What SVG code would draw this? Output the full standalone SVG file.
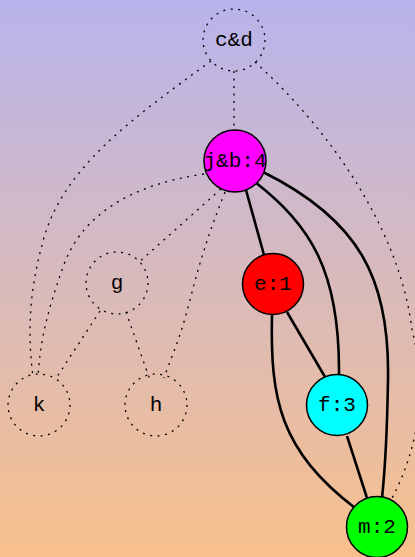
<svg xmlns="http://www.w3.org/2000/svg" width="415" height="557" viewBox="0 0 415 557">
<defs>
<linearGradient id="bg" x1="0" y1="0" x2="0" y2="1">
<stop offset="0" stop-color="#b8b4ec"/>
<stop offset="1" stop-color="#f8c08c"/>
</linearGradient>
<style>
.dot{fill:none;stroke:#000;stroke-width:1.3;stroke-dasharray:2,5.5}
.sol{fill:none;stroke:#000;stroke-width:2.6}
.nd{fill:none;stroke:#000;stroke-width:1.3;stroke-dasharray:2,5.5}
.ns{stroke:#000;stroke-width:1.5}
text{font-family:"Liberation Mono","DejaVu Sans Mono",monospace;font-size:21px;text-anchor:middle;fill:#000}
</style>
</defs>
<rect width="415" height="557" fill="url(#bg)"/>
<g id="edges">
<path class="dot" d="M234,71 L234,130"/>
<path class="dot" d="M211,61 C130,120 60,170 42,245 C30,290 27,330 33,377"/>
<path class="dot" d="M255,62 C330,130 400,230 412,330 C428,390 418,450 391,500"/>
<path class="dot" d="M204,174 C130,185 80,215 62,270 C48,310 40,340 38,378"/>
<path class="dot" d="M221,189 L138,263"/>
<path class="dot" d="M225,192 C210,230 200,260 190,300 C180,340 170,360 164,378"/>
<path class="dot" d="M100,311 L55,380"/>
<path class="dot" d="M126,312 L150,380"/>
<path class="sol" d="M246,190 L264,255"/>
<path class="sol" d="M255,182 C310,225 340,270 339,375"/>
<path class="sol" d="M263,172 C360,220 390,280 388,380 C387,440 385,470 382,498"/>
<path class="sol" d="M287,312 L325,377"/>
<path class="sol" d="M272,314 C270,400 280,450 355,508"/>
<path class="sol" d="M347,436 L367,498"/>
</g>
<g id="cd"><circle class="nd" cx="234" cy="40" r="31"/><text x="234" y="46">c&amp;d</text></g>
<g id="jb"><circle class="ns" fill="#ff00ff" cx="235" cy="161" r="31"/><text x="235" y="167">j&amp;b:4</text></g>
<g id="g"><circle class="nd" cx="117" cy="283" r="31"/><text x="117" y="289">g</text></g>
<g id="e"><circle class="ns" fill="#ff0000" cx="273" cy="284" r="30.5"/><text x="273" y="290">e:1</text></g>
<g id="k"><circle class="nd" cx="39" cy="405" r="31"/><text x="39" y="411">k</text></g>
<g id="h"><circle class="nd" cx="156" cy="405" r="31"/><text x="156" y="411">h</text></g>
<g id="f"><circle class="ns" fill="#00ffff" cx="337" cy="405" r="30.5"/><text x="337" y="411">f:3</text></g>
<g id="m"><circle class="ns" fill="#00ff00" cx="377" cy="527" r="30.5"/><text x="377" y="533">m:2</text></g>
</svg>
